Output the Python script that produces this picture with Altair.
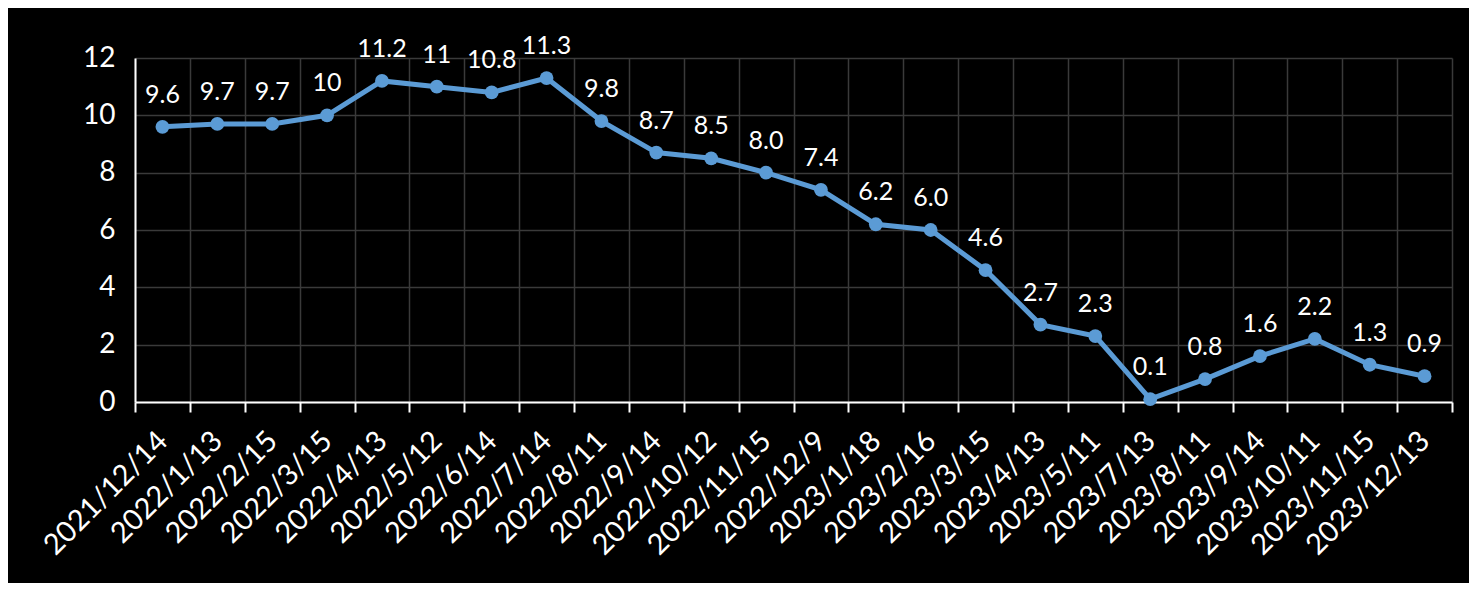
import altair as alt
import pandas as pd

dates = ["2021/12/14", "2022/1/13", "2022/2/15", "2022/3/15", "2022/4/13", "2022/5/12",
         "2022/6/14", "2022/7/14", "2022/8/11", "2022/9/14", "2022/10/12", "2022/11/15",
         "2022/12/9", "2023/1/18", "2023/2/16", "2023/3/15", "2023/4/13", "2023/5/11",
         "2023/7/13", "2023/8/11", "2023/9/14", "2023/10/11", "2023/11/15", "2023/12/13"]
values = [9.6, 9.7, 9.7, 10, 11.2, 11, 10.8, 11.3, 9.8, 8.7, 8.5, 8.0,
          7.4, 6.2, 6.0, 4.6, 2.7, 2.3, 0.1, 0.8, 1.6, 2.2, 1.3, 0.9]
labels = ["9.6", "9.7", "9.7", "10", "11.2", "11", "10.8", "11.3", "9.8", "8.7", "8.5", "8.0",
          "7.4", "6.2", "6.0", "4.6", "2.7", "2.3", "0.1", "0.8", "1.6", "2.2", "1.3", "0.9"]

df = pd.DataFrame({"date": dates, "value": values, "label": labels})

FONT = "Lato"
BLUE = "#5B9BD5"
GRID = "#3a3a3a"

x = alt.X("date:N", sort=dates,
          scale=alt.Scale(type="band", paddingInner=0, paddingOuter=0),
          axis=alt.Axis(title=None, labelAngle=-45, labelAlign="right", labelBaseline="middle",
                        labelFontSize=29, labelColor="white", labelFont=FONT, labelPadding=24,
                        tickBand="extent", grid=True, gridColor=GRID, gridWidth=1.5,
                        domainColor="white", domainWidth=2, tickColor="white", tickWidth=2,
                        tickSize=10))
y = alt.Y("value:Q", scale=alt.Scale(domain=[0, 12], nice=False),
          axis=alt.Axis(title=None, values=[0, 2, 4, 6, 8, 10, 12], labelFontSize=28,
                        labelColor="white", labelFont=FONT, labelPadding=20, ticks=False,
                        grid=True, gridColor=GRID, gridWidth=1.5,
                        domainColor="white", domainWidth=2))

base = alt.Chart(df)
line = base.mark_line(color=BLUE, strokeWidth=5).encode(x=x, y=y)
pts = base.mark_point(color=BLUE, filled=True, opacity=1, size=190).encode(x=x, y=y)
txt = base.mark_text(color="white", fontSize=25, font=FONT, dy=-32).encode(
    x=x, y=y, text="label:N")

chart = (line + pts + txt).properties(
    width=1317, height=344, background="black",
    autosize=alt.AutoSizeParams(type="none"),
    padding={"left": 127, "top": 50, "right": 17, "bottom": 181},
).configure_view(strokeWidth=0)

chart.save("out.html", embed_options={"renderer": "svg", "actions": False})
